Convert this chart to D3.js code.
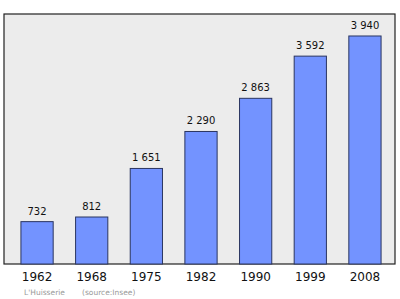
<!DOCTYPE html>
<html>
<head>
<meta charset="utf-8">
<script src="https://cdn.jsdelivr.net/npm/d3@7"></script>
<style>
	body { margin: 0; background: #fff; }
	text { font-family: "DejaVu Sans", sans-serif; }
</style>
</head>
<body>
<div id="chart"></div>
<script>

// population data
const years = ["1962", "1968", "1975", "1982", "1990", "1999", "2008"];
const population = [732, 812, 1651, 2290, 2863, 3592, 3940];
const commune = "L'Huisserie";
const source = "(source:Insee)";

const width = 400, height = 299;
const frame = { left: 4, top: 14, right: 395, bottom: 264 };

const svg = d3.select("#chart").append("svg")
	.attr("width", width)
	.attr("height", height);

// plot background
svg.append("rect")
	.attr("x", frame.left)
	.attr("y", frame.top)
	.attr("width", frame.right - frame.left)
	.attr("height", frame.bottom - frame.top)
	.attr("fill", "#ececec")
	.attr("stroke", "#222")
	.attr("stroke-width", 1.2);

const x = d3.scaleBand()
	.domain(years)
	.range([10, 392])
	.paddingInner(0.41)
	.paddingOuter(0.2);

const y = d3.scaleLinear()
	.domain([0, 4320])
	.range([frame.bottom, frame.top]);

const data = years.map((d, i) => ({ year: d, value: population[i] }));

svg.selectAll(".bar")
	.data(data)
	.enter()
	.append("rect")
	.attr("class", "bar")
	.attr("x", d => x(d.year))
	.attr("y", d => y(d.value))
	.attr("width", x.bandwidth())
	.attr("height", d => y(0) - y(d.value))
	.attr("fill", "#7393ff")
	.attr("stroke", "#2a3560")
	.attr("stroke-width", 1);

// value labels
svg.selectAll(".val")
	.data(data)
	.enter()
	.append("text")
	.attr("class", "val")
	.attr("x", d => x(d.year) + x.bandwidth() / 2)
	.attr("y", d => y(d.value) - 7)
	.attr("text-anchor", "middle")
	.attr("font-size", "10px")
	.attr("fill", "#111")
	.text(d => d3.format(",")(d.value).replace(",", " "));

// x axis labels
const xAxis = d3.axisBottom(x).tickSize(0).tickPadding(8);
const axisG = svg.append("g")
	.attr("transform", `translate(0,${frame.bottom})`)
	.call(xAxis);
axisG.select(".domain").remove();
axisG.selectAll("text")
	.attr("font-size", "12px")
	.attr("fill", "#111")
	.attr("font-family", "DejaVu Sans, sans-serif");

// caption
svg.append("text")
	.attr("x", 24)
	.attr("y", 295)
	.attr("font-size", "7.5px")
	.attr("fill", "#999")
	.text(commune);

svg.append("text")
	.attr("x", 82)
	.attr("y", 295)
	.attr("font-size", "7.5px")
	.attr("fill", "#999")
	.text(source);

</script>
</body>
</html>
